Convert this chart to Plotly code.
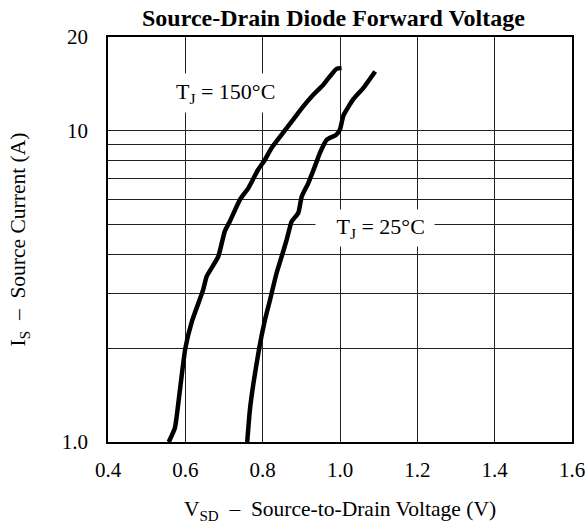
import plotly.graph_objects as go

# Data
vsd_150 = [0.557, 0.573, 0.586, 0.600, 0.617, 0.646, 0.655, 0.685, 0.702, 0.715,
           0.741, 0.763, 0.788, 0.806, 0.823, 0.857, 0.880, 0.905, 0.931, 0.957,
           0.974, 0.991, 1.004]
is_150 = [1.00, 1.11, 1.47, 2.00, 2.44, 3.08, 3.40, 3.94, 4.75, 5.11,
          6.00, 6.54, 7.49, 8.07, 8.80, 10.0, 10.9, 11.97, 13.05, 14.06,
          14.95, 15.8, 15.9]

vsd_25 = [0.760, 0.767, 0.776, 0.791, 0.806, 0.819, 0.836, 0.849, 0.862, 0.875,
          0.892, 0.901, 0.918, 0.935, 0.948, 0.966, 0.990, 1.000, 1.009, 1.034,
          1.060, 1.091]
is_25 = [1.00, 1.27, 1.54, 2.00, 2.47, 2.86, 3.49, 3.94, 4.46, 5.11,
         5.44, 6.15, 6.79, 7.68, 8.48, 9.36, 9.7, 10.1, 11.2, 12.6,
         13.7, 15.5]

x_ticks = [0.4, 0.6, 0.8, 1.0, 1.2, 1.4, 1.6]
x_tick_text = ["0.4", "0.6", "0.8", "1.0", "1.2", "1.4", "1.6"]
y_ticks = [1, 10, 20]
y_tick_text = ["1.0", "10", "20"]
y_minor_grid = [2, 3, 4, 5, 6, 7, 8, 9]

FONT = "Liberation Serif, Times New Roman, serif"
NB = "\u00a0"

fig = go.Figure()
fig.add_trace(go.Scatter(x=vsd_150, y=is_150, mode="lines",
                         line=dict(color="black", width=4.5, shape="spline", smoothing=0.5),
                         showlegend=False))
fig.add_trace(go.Scatter(x=vsd_25, y=is_25, mode="lines",
                         line=dict(color="black", width=4.5, shape="spline", smoothing=0.5),
                         showlegend=False))

fig.add_annotation(x=0.705, y=1.121, xref="x", yref="y",
                   text="T<sub>J</sub> = 150°C", showarrow=False,
                   font=dict(family=FONT, size=22, color="black"),
                   bgcolor="white", borderpad=5)
fig.add_annotation(x=1.09, y=0.687, xref="x", yref="y",
                   text=NB * 3 + "T<sub>J</sub> = 25°C" + NB,
                   showarrow=False,
                   font=dict(family=FONT, size=22, color="black"),
                   bgcolor="white", borderpad=4)

fig.update_layout(
    width=587, height=529,
    margin=dict(l=108, r=15, t=37, b=87, autoexpand=False),
    paper_bgcolor="white", plot_bgcolor="white",
    font=dict(family=FONT, size=21, color="black"),
    title=dict(text="<b>Source-Drain Diode Forward Voltage</b>",
               x=0.568, xanchor="center", y=0.966, yanchor="middle",
               font=dict(family=FONT, size=24, color="black")),
)
fig.update_xaxes(range=[0.4, 1.6], tickmode="array", tickvals=x_ticks, ticktext=x_tick_text,
                 showgrid=True, gridcolor="#222222", gridwidth=1, griddash="solid",
                 showline=True, linecolor="black", linewidth=1.5, mirror=True,
                 zeroline=False, ticks="", ticklabelstandoff=8, automargin=False,
                 layer="below traces",
                 title=dict(text="V<sub>SD</sub>" + NB * 2 + "–" + NB * 2 + "Source-to-Drain Voltage (V)",
                            standoff=20, font=dict(size=21.5)))
fig.update_yaxes(type="log", range=[0, 1.30103], tickmode="array",
                 tickvals=y_ticks, ticktext=y_tick_text,
                 showgrid=True, gridcolor="#222222", gridwidth=1,
                 minor=dict(tickmode="array", tickvals=y_minor_grid, showgrid=True,
                            gridcolor="#222222", gridwidth=1, ticks=""),
                 showline=True, linecolor="black", linewidth=1.5, mirror=True,
                 zeroline=False, ticks="", ticklabelstandoff=14, automargin=False,
                 title=dict(text="I<sub>S</sub>" + NB * 2 + "–" + NB * 2 + "Source Current (A)",
                            standoff=30, font=dict(size=21.5)))

fig.write_html("out.html", config={"displayModeBar": False},
               post_script="document.body.style.margin='0';document.body.style.overflow='hidden';")
